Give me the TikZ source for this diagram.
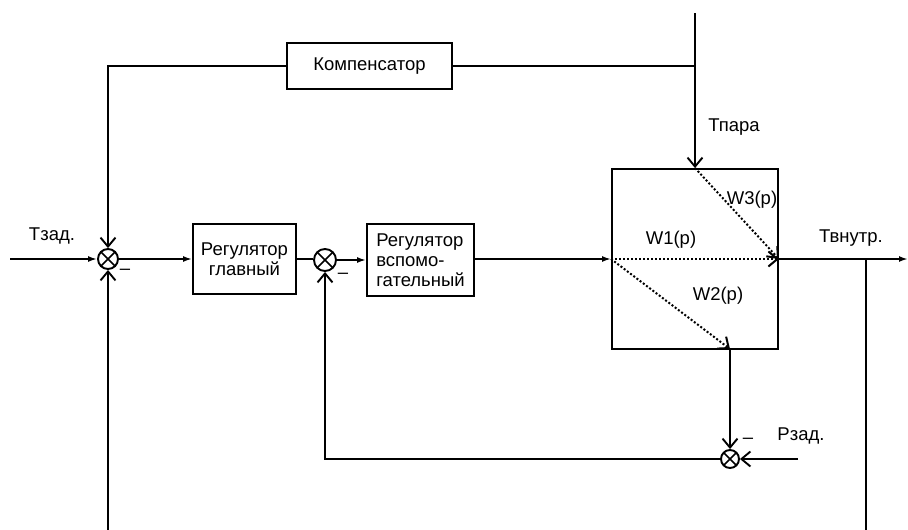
\documentclass[tikz,border=0pt]{standalone}
\usepackage{fontspec}
\setmainfont{Liberation Sans}
\usetikzlibrary{arrows.meta,calc}
\newcommand\dfont{\fontsize{18.5}{20}\selectfont}
\begin{document}
\begin{tikzpicture}[x=1pt,y=-1pt,line width=1.9pt,
  blk/.style={draw, line width=1.9pt, inner sep=2pt, font=\dfont},
  lbl/.style={inner sep=0pt, font=\dfont},
  sumnode/.style={circle, draw, line width=1.9pt, minimum size=20pt, inner sep=0pt,
    path picture={\draw[line width=1.5pt] (path picture bounding box.south west) -- (path picture bounding box.north east)
      (path picture bounding box.north west) -- (path picture bounding box.south east);}},
  fa/.style={-{Latex[length=9pt,width=6pt]}},
  oa/.style={-{Straight Barb[length=9pt,width=15pt]}},
  dotl/.style={dash pattern=on 2pt off 2pt, line width=2pt}]
\useasboundingbox (0,0) rectangle (908,530);

% nodes
\node[blk, minimum width=165pt, minimum height=46pt] (comp) at (369.5,66) {Компенсатор};
\node[blk, minimum width=103pt, minimum height=70pt, align=center] (reg1) at (244.5,259) {Регулятор\\главный};
\node[blk, minimum width=107pt, minimum height=72pt, align=left] (reg2) at (420.5,260) {Регулятор\\вспомо-\\гательный};
\node[draw, line width=1.9pt, minimum width=166pt, minimum height=180pt] (plant) at (695,259) {};
\node[sumnode] (s1) at (108,259) {};
\node[sumnode, minimum size=22pt] (s2) at (325,260) {};
\node[sumnode, minimum size=18pt] (s3) at (730,459) {};

% free ends
\coordinate (inT) at (10,259);
\coordinate (topin) at (695,13);
\coordinate (cj) at (695,66);
\coordinate (outend) at (908,259);
\coordinate (fb) at (866,259);
\coordinate (fbend) at (866,530);
\coordinate (s1bot) at (108,530);
\coordinate (pz) at (798,459);
\coordinate (w2e) at (730,349);

% labels
\node[lbl] (lT) at (52,236) {Тзад.};
\node[lbl] (lTp) at (734,127) {Тпара};
\node[lbl] (lTv) at (851,238) {Твнутр.};
\node[lbl] (lP) at (801,436) {Рзад.};
\node[lbl] (lW1) at (671,240) {W1(p)};
\node[lbl] (lW2) at (718,296) {W2(p)};
\node[lbl] (lW3) at (752,200) {W3(p)};
\node[lbl] (m1) at (125,272) {–};
\node[lbl] (m2) at (343,276) {–};
\node[lbl] (m3) at (748,441) {–};

% connectors
\draw[fa] (inT) -- (s1.west);
\draw[fa] (s1.east) -- (reg1.west);
\draw (reg1.east) -- (reg1.east -| s2.west);
\draw[fa] (s2.east |- reg2.west) -- (reg2.west);
\draw[fa] (reg2.east |- plant.west) -- (plant.west);
\draw[fa] (plant.east) -- (outend);
\draw (fb) -- (fbend);
\draw[oa] (s1bot) -- (s1.south);
\draw[oa] (comp.west) -| (s1.north);
\draw (comp.east) -- (cj);
\draw[oa] (topin) -- (plant.north);
\draw[dotl, oa] (plant.west) -- (plant.east);
\draw[dotl, oa] (plant.north) -- (plant.east);
\draw[dotl, oa] (plant.west) -- (w2e);
\draw[oa] (w2e) -- (s3.north);
\draw[oa] (pz) -- (s3.east);
\draw[oa] (s3.west) -| (s2.south);
\end{tikzpicture}
\end{document}
